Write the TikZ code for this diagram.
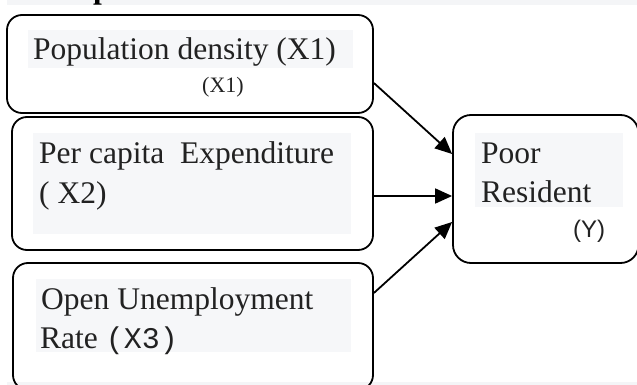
\documentclass[tikz,border=0pt]{standalone}
\usepackage{fontspec}
\setmainfont{Liberation Serif}
\setsansfont{Liberation Sans}
\setmonofont{Liberation Mono}
\usetikzlibrary{arrows.meta}
\definecolor{hlgray}{HTML}{F6F7F9}
\definecolor{stripgray}{HTML}{F4F5F7}
\definecolor{textgray}{HTML}{222222}
\begin{document}
\begin{tikzpicture}[x=1pt,y=-1pt,
  box/.style={draw=black, line width=1.8pt, rounded corners=15pt, inner sep=0pt},
  hl/.style={fill=hlgray, draw=none},
  txt/.style={anchor=base west, inner sep=0pt, text=textgray, font=\fontsize{31.5}{38}\selectfont},
  small/.style={anchor=base west, inner sep=0pt, text=textgray, font=\fontsize{22}{26}\selectfont},
  conn/.style={line width=1.8pt, -{Triangle[length=17pt,width=15pt]}}]
\useasboundingbox (0,0) rectangle (637,385);
\clip (0,0) rectangle (637,385);
% header strip and footer strip
\fill[stripgray] (7,0) rectangle (637,5.5);
\fill[stripgray] (7,381.5) rectangle (637,385);
\node[anchor=base west, inner sep=0pt, font=\fontsize{31.5}{38}\selectfont\bfseries] (title) at (93,-1.5) {p};
% highlight backgrounds
\fill[hl] (28,30) rectangle (353,68);
\fill[hl] (33,133) rectangle (351,234);
\fill[hl] (36,279) rectangle (351,352);
\fill[hl] (475,133) rectangle (623,207);
% boxes
\node[box, minimum width=366pt, minimum height=98pt] (b1) at (190,64) {};
\node[box, minimum width=361pt, minimum height=133pt] (b2) at (192.5,183.5) {};
\node[box, minimum width=360pt, minimum height=127pt] (b3) at (193,326.5) {};
\node[box, rounded corners=18pt, minimum width=185.5pt, minimum height=148pt] (by) at (545.75,189) {};
% texts
\node[txt] (t1) at (33,60) {Population density (X1)};
\node[small] (t1b) at (202,93) {(X1)};
\node[txt] (t2a) at (39,163) {Per capita\ \ Expenditure};
\node[txt] (t2b) at (39,203) {( X2)};
\node[txt] (t3a) at (41,309) {Open Unemployment};
\node[txt] (t3b) at (40,348) {Rate {\ttfamily\fontsize{30}{36}\selectfont(X3)}};
\node[txt] (ty1) at (481,163) {Poor};
\node[txt] (ty2) at (481,202) {Resident};
\node[anchor=base west, inner sep=0pt, text=textgray, font=\sffamily\fontsize{24}{28}\selectfont] (ty3) at (573,237) {(Y)};
% connectors
\draw[conn] ([yshift=-19pt]b1.east) -- ([yshift=35pt]by.west);
\draw[conn] ([yshift=-12.5pt]b2.east) -- ([yshift=-7pt]by.west);
\draw[conn] ([yshift=33.5pt]b3.east) -- ([yshift=-33pt]by.west);
\end{tikzpicture}
\end{document}
